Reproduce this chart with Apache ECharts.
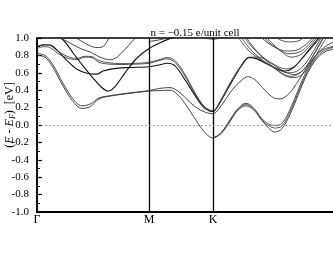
<!DOCTYPE html>
<html>
<head>
<meta charset="utf-8">
<script src="https://cdn.jsdelivr.net/npm/echarts@6/dist/echarts.min.js"></script>
<style>html,body{margin:0;padding:0;background:#fff;}#c{width:333px;height:258px;}</style>
</head>
<body>
<div id="c"></div>
<script>
// k-path: Γ=0, M=112, K=176, Γ=306 (path length units)
var kTickValues = [0, 112, 176];
var kTickLabels = ['Γ', 'M', 'K'];
var yTickValues = [-1.0, -0.8, -0.6, -0.4, -0.2, 0.0, 0.2, 0.4, 0.6, 0.8, 1.0];

// bands: [k, E-EF]
var bandA = [[0,0.80],[8,0.78],[16,0.66],[26,0.45],[36,0.27],[45,0.19],[53,0.21],[62,0.30],[72,0.33],[90,0.36],[112,0.39],[122,0.395],[133,0.40],[143,0.32],[153,0.16],[161,0.02],[169,-0.10],[176,-0.15],[184,-0.09],[193,0.06],[201,0.19],[209,0.25],[217,0.19],[225,0.06],[232,-0.04],[238,-0.08],[245,-0.04],[253,0.12],[261,0.34],[269,0.56],[277,0.72],[285,0.82],[295,0.87],[306,0.88]];
var bandB = [[0,0.82],[8,0.80],[16,0.69],[26,0.48],[36,0.30],[45,0.22],[53,0.24],[62,0.31],[72,0.335],[90,0.365],[112,0.395],[122,0.42],[133,0.43],[143,0.37],[153,0.26],[162,0.18],[170,0.14],[176,0.13],[184,0.22],[195,0.40],[205,0.52],[211,0.555],[218,0.52],[228,0.40],[237,0.31],[243,0.30],[252,0.36],[262,0.52],[272,0.70],[282,0.84],[292,0.93],[300,0.97],[306,0.98]];
var bandC = [[176,-0.15],[184,-0.095],[193,0.05],[201,0.17],[209,0.22],[217,0.17],[225,0.05],[232,-0.01],[238,-0.035],[245,-0.01],[253,0.15],[261,0.37],[269,0.58],[277,0.74],[285,0.84],[295,0.89],[306,0.90]];
var bandD = [[176,-0.15],[184,-0.10],[193,0.04],[201,0.18],[209,0.235],[217,0.18],[225,0.07],[232,0.01],[238,-0.005],[245,0.02],[253,0.18],[261,0.40],[269,0.61],[277,0.77],[285,0.86],[295,0.90],[306,0.91]];
var bandE = [[0,0.90],[7,0.92],[13,0.92],[20,0.86],[30,0.74],[40,0.64],[50,0.595],[60,0.585],[66,0.62],[75,0.645],[90,0.66],[112,0.67],[122,0.69],[130,0.71],[138,0.68],[148,0.52],[158,0.34],[166,0.21],[172,0.165],[176,0.155],[182,0.24],[190,0.40],[198,0.56],[205,0.69],[212,0.775],[220,0.76],[230,0.70],[240,0.645],[248,0.62],[256,0.655],[266,0.78],[276,0.92],[284,1.03]];
var bandF = [[0,0.88],[7,0.90],[13,0.89],[20,0.83],[30,0.77],[40,0.75],[48,0.78],[55,0.775],[62,0.72],[72,0.70],[85,0.695],[100,0.70],[112,0.71],[122,0.74],[130,0.76],[138,0.72],[148,0.56],[158,0.36],[166,0.22],[172,0.17],[176,0.16],[182,0.25],[190,0.42],[198,0.58],[205,0.70],[212,0.78],[222,0.78],[232,0.73],[242,0.665],[250,0.645],[258,0.68],[268,0.80],[278,0.93],[286,1.03]];
var bandG = [[0,0.905],[7,0.925],[13,0.915],[20,0.855],[30,0.79],[40,0.765],[48,0.79],[55,0.785],[62,0.74],[72,0.715],[85,0.705],[100,0.71],[112,0.72],[122,0.75],[130,0.775],[138,0.74],[148,0.58],[158,0.37],[166,0.23],[172,0.175],[176,0.165]];
var bandH = [[15,1.05],[26,0.98],[36,0.83],[46,0.68],[56,0.54],[64,0.44],[71,0.39],[78,0.44],[88,0.60],[100,0.77],[112,0.88],[122,0.94],[132,0.99],[140,1.02]];
var bandI = [[35,1.03],[45,0.96],[53,0.91],[60,0.89],[65,0.895],[70,0.96],[73,1.02]];
var bandJ = [[20,1.02],[35,0.93],[45,0.87],[53,0.84],[63,0.78],[73,0.75],[80,0.78],[88,0.87],[95,0.96],[100,1.02]];
var bandK = [[112,0.96],[125,0.985],[135,1.02]];
var bandL = [[165,1.01],[176,0.985],[186,1.01]];
var bandU1a = [[200,1.03],[205,0.95],[212,0.85],[220,0.78],[228,0.72],[236,0.67],[244,0.62],[252,0.60],[260,0.62],[268,0.70],[276,0.84],[282,0.96],[286,1.03]];
var bandU1b = [[203,1.03],[208,0.95],[215,0.85],[223,0.77],[231,0.70],[239,0.64],[247,0.58],[254,0.56],[262,0.59],[270,0.68],[278,0.83],[284,0.95],[288,1.03]];
var bandU1c = [[206,1.03],[211,0.95],[218,0.86],[226,0.78],[234,0.71],[242,0.65],[250,0.60],[257,0.58],[265,0.62],[273,0.74],[280,0.88],[286,1.0],[290,1.04]];
var bandU1d = [[208,1.03],[214,0.93],[222,0.82],[230,0.73],[238,0.65],[246,0.58],[252,0.55],[258,0.545],[265,0.58],[272,0.67],[280,0.82],[287,0.96],[291,1.03]];
var bandU2a = [[222,1.03],[230,0.95],[240,0.88],[250,0.85],[258,0.855],[266,0.90],[274,0.98],[278,1.03]];
var bandU2b = [[225,1.03],[233,0.94],[243,0.86],[252,0.82],[260,0.83],[268,0.88],[276,0.98],[280,1.03]];
var bandU2c = [[228,1.03],[236,0.93],[246,0.83],[254,0.78],[262,0.80],[270,0.87],[278,0.98],[282,1.03]];
var bandU3 = [[236,1.03],[245,0.97],[253,0.955],[262,0.97],[270,1.03]];

var bands = [
  {d: bandA, c: '#333', w: 0.9}, {d: bandB, c: '#333', w: 0.9},
  {d: bandC, c: '#444', w: 0.9}, {d: bandD, c: '#444', w: 0.9},
  {d: bandE, c: '#111', w: 1.1}, {d: bandF, c: '#444', w: 0.9},
  {d: bandG, c: '#444', w: 0.9}, {d: bandH, c: '#111', w: 1.1},
  {d: bandI, c: '#333', w: 0.9}, {d: bandJ, c: '#333', w: 0.9},
  {d: bandK, c: '#333', w: 0.9}, {d: bandL, c: '#333', w: 0.9},
  {d: bandU1a, c: '#444', w: 0.9}, {d: bandU1b, c: '#444', w: 0.9},
  {d: bandU1c, c: '#444', w: 0.9}, {d: bandU1d, c: '#444', w: 0.9},
  {d: bandU2a, c: '#444', w: 0.9}, {d: bandU2b, c: '#444', w: 0.9},
  {d: bandU2c, c: '#444', w: 0.9}, {d: bandU3, c: '#444', w: 0.9}
];

var serif = "'Liberation Serif', 'DejaVu Serif', serif";
var chart = echarts.init(document.getElementById('c'), null, {renderer: 'canvas'});

var series = bands.map(function (b) {
  return {
    type: 'line', data: b.d, smooth: 0.35, symbol: 'none', clip: true,
    lineStyle: {color: b.c, width: b.w}, silent: true, animation: false
  };
});
series.push({
  type: 'line', data: [], symbol: 'none', silent: true, animation: false,
  markLine: {
    silent: true, symbol: 'none', animation: false, label: {show: false},
    data: [
      {xAxis: kTickValues[1], lineStyle: {color: '#000', width: 1.3, type: 'solid'}},
      {xAxis: kTickValues[2], lineStyle: {color: '#000', width: 1.3, type: 'solid'}},
      {yAxis: 0, lineStyle: {color: '#888', width: 0.8, type: [2, 2]}}
    ]
  }
});

chart.setOption({
  animation: false,
  backgroundColor: '#fff',
  title: {
    text: 'n = \u22120.15 e/unit cell', left: 190, top: 23, textAlign: 'center',
    textStyle: {fontFamily: serif, fontSize: 11, fontWeight: 'normal', color: '#000'}
  },
  grid: {left: 37, right: -10, top: 38, bottom: 46, show: true, borderColor: '#000', borderWidth: 1.5, containLabel: false, outerBoundsMode: 'none'},
  xAxis: {
    type: 'value', min: 0, max: 306,
    axisLine: {show: true, onZero: false, lineStyle: {color: '#000', width: 2}},
    axisTick: {show: false},
    splitLine: {show: false},
    axisLabel: {
      customValues: kTickValues, margin: 2,
      formatter: function (v) { var i = kTickValues.indexOf(v); return i >= 0 ? kTickLabels[i] : ''; },
      fontFamily: serif, fontSize: 12, color: '#000'
    }
  },
  yAxis: {
    type: 'value', min: -1, max: 1, interval: 0.2,
    axisLine: {show: true, onZero: false, lineStyle: {color: '#000', width: 1.5}},
    axisTick: {show: true, inside: true, length: 5, lineStyle: {color: '#000', width: 1.2}},
    minorTick: {show: true, splitNumber: 2, length: 3, lineStyle: {color: '#000', width: 1}},
    splitLine: {show: false},
    axisLabel: {
      margin: 8, fontFamily: serif, fontSize: 11, color: '#000',
      formatter: function (v) { return (Math.abs(v) < 1e-9 ? 0 : v).toFixed(1); }
    },
    name: '{p|(}{i|E}{p| - }{i|E}{s|F}{p|)  [eV]}',
    nameLocation: 'middle', nameRotate: 90, nameGap: 20, nameMoveOverlap: false,
    nameTextStyle: {
      padding: [0, 0, 0, 20],
      rich: {
        p: {fontFamily: serif, fontSize: 12, color: '#000'},
        i: {fontFamily: serif, fontSize: 12, fontStyle: 'italic', color: '#000'},
        s: {fontFamily: serif, fontSize: 8, fontStyle: 'italic', color: '#000', verticalAlign: 'bottom', padding: [6, 0, 0, 0]}
      }
    }
  },
  series: series
});
</script>
</body>
</html>
